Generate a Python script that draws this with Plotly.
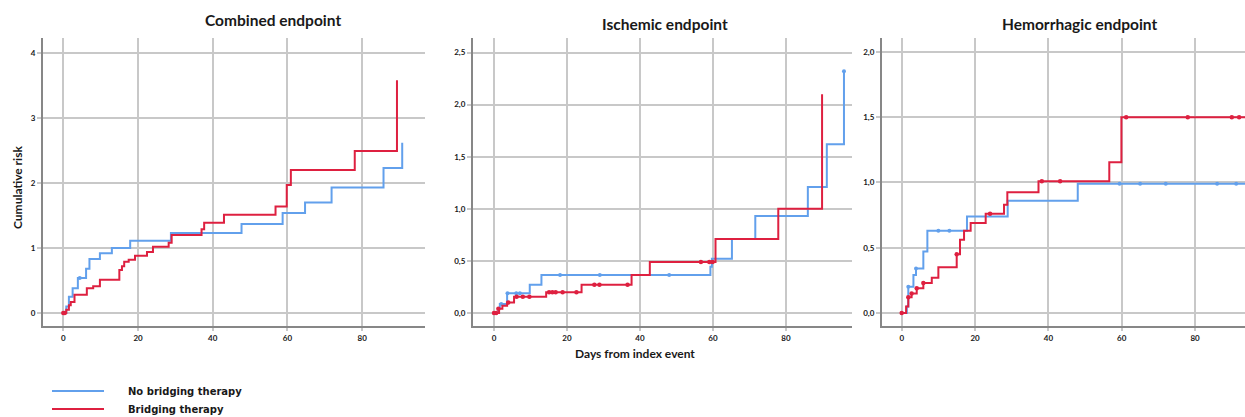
import plotly.graph_objects as go

W, H = 1245, 417

# ---------------- data ----------------
panel_titles = ["Combined endpoint", "Ischemic endpoint", "Hemorrhagic endpoint"]
series_names = ["No bridging therapy", "Bridging therapy"]
x_ticks = [0, 20, 40, 60, 80]
x_tick_labels = ["0", "20", "40", "60", "80"]

y1_ticks = [0, 1, 2, 3, 4]
y1_tick_labels = ["0", "1", "2", "3", "4"]
y2_ticks = [0, 0.5, 1.0, 1.5, 2.0, 2.5]
y2_tick_labels = ["0,0", "0,5", "1,0", "1,5", "2,0", "2,5"]
y3_ticks = [0, 0.5, 1.0, 1.5, 2.0]
y3_tick_labels = ["0,0", "0,5", "1,0", "1,5", "2,0"]

# Combined endpoint
comb_no_t = [0, 0.8, 1.5, 2.5, 3.9, 6.1, 7.0, 9.8, 13.0, 17.9, 28.8, 47.7, 58.7, 64.7, 71.8, 85.7, 90.7]
comb_no_y = [0, 0.10, 0.25, 0.38, 0.54, 0.68, 0.83, 0.92, 1.00, 1.11, 1.23, 1.37, 1.54, 1.70, 1.93, 2.23, 2.62]
comb_br_t = [0, 0.8, 1.5, 2.0, 3.0, 6.3, 8.0, 9.8, 15.0, 15.7, 16.3, 17.5, 19.2, 22.4, 24.0, 28.2, 29.0,
             37.0, 37.7, 43.0, 56.8, 59.8, 60.9, 78.0, 89.3]
comb_br_y = [0, 0.05, 0.12, 0.17, 0.28, 0.38, 0.41, 0.51, 0.66, 0.72, 0.79, 0.82, 0.88, 0.94, 1.02, 1.08, 1.20,
             1.29, 1.39, 1.51, 1.64, 1.97, 2.20, 2.49, 3.58]
comb_no_cens_t = [4.4]
comb_no_cens_y = [0.54]
comb_br_cens_t = [0, 0.4]
comb_br_cens_y = [0, 0]

# Ischemic endpoint
isch_no_t = [0, 1.2, 1.6, 3.6, 9.8, 13.0, 59.3, 59.7, 65.2, 71.6, 86.0, 91.2, 95.9]
isch_no_y = [0, 0.045, 0.087, 0.19, 0.27, 0.365, 0.445, 0.52, 0.71, 0.93, 1.21, 1.62, 2.32]
isch_br_t = [0, 1.4, 2.3, 3.6, 5.5, 14.3, 24.0, 37.7, 42.7, 60.7, 77.9, 89.9]
isch_br_y = [0, 0.04, 0.07, 0.10, 0.157, 0.20, 0.27, 0.365, 0.49, 0.71, 1.00, 2.10]
isch_no_cens_t = [2.0, 3.7, 6.1, 7.1, 18.1, 29.0, 48.0, 95.9]
isch_no_cens_y = [0.087, 0.19, 0.19, 0.19, 0.365, 0.365, 0.365, 2.32]
isch_br_cens_t = [0, 0.6, 1.2, 3.9, 6.2, 7.9, 9.7, 15.1, 16.0, 16.9, 18.8, 22.6, 27.5, 28.9, 36.6, 56.7, 59.0, 59.9]
isch_br_cens_y = [0, 0, 0.04, 0.10, 0.157, 0.157, 0.157, 0.20, 0.20, 0.20, 0.20, 0.20, 0.27, 0.27, 0.27, 0.49, 0.49, 0.49]

# Hemorrhagic endpoint
hem_no_t = [0, 1.4, 1.8, 3.2, 3.9, 5.9, 7.0, 17.8, 28.9, 48.0, 93.6]
hem_no_y = [0, 0.05, 0.20, 0.29, 0.34, 0.47, 0.63, 0.74, 0.86, 0.99, 0.99]
hem_br_t = [0, 1.2, 1.8, 2.7, 4.1, 5.9, 8.2, 10.0, 15.0, 15.9, 17.0, 18.8, 22.9, 27.9, 28.8, 37.3, 56.6, 59.9, 93.6]
hem_br_y = [0, 0.05, 0.12, 0.15, 0.19, 0.23, 0.27, 0.35, 0.45, 0.56, 0.63, 0.69, 0.76, 0.83, 0.925, 1.01, 1.155, 1.50, 1.50]
hem_no_cens_t = [1.8, 3.9, 10.0, 13.0, 59.4, 65.0, 72.0, 86.0, 91.2]
hem_no_cens_y = [0.20, 0.34, 0.63, 0.63, 0.99, 0.99, 0.99, 0.99, 0.99]
hem_br_cens_t = [0, 1.8, 2.7, 4.1, 5.9, 15.0, 24.1, 38.2, 43.2, 61.2, 78.0, 90.0, 92.0]
hem_br_cens_y = [0, 0.12, 0.15, 0.19, 0.23, 0.45, 0.76, 1.01, 1.01, 1.50, 1.50, 1.50, 1.50]

# ---------------- style ----------------
BLUE = "rgb(98,160,236)"
RED = "rgb(222,32,64)"
GRID = "rgb(200,200,200)"
AXIS = "rgb(135,135,135)"
TXT = "rgb(25,25,25)"
FONT = "Lato"

fig = go.Figure()

panels = [
    (comb_no_t, comb_no_y, comb_br_t, comb_br_y, comb_no_cens_t, comb_no_cens_y, comb_br_cens_t, comb_br_cens_y),
    (isch_no_t, isch_no_y, isch_br_t, isch_br_y, isch_no_cens_t, isch_no_cens_y, isch_br_cens_t, isch_br_cens_y),
    (hem_no_t, hem_no_y, hem_br_t, hem_br_y, hem_no_cens_t, hem_no_cens_y, hem_br_cens_t, hem_br_cens_y),
]

for i, (nt, ny, bt, by, nct, ncy, bct, bcy) in enumerate(panels):
    xa = "x" if i == 0 else f"x{i+1}"
    ya = "y" if i == 0 else f"y{i+1}"
    fig.add_trace(go.Scatter(x=nt, y=ny, mode="lines", line=dict(color=BLUE, width=2, shape="hv"),
                             name=series_names[0], showlegend=False, xaxis=xa, yaxis=ya))
    fig.add_trace(go.Scatter(x=nct, y=ncy, mode="markers", marker=dict(color=BLUE, size=4),
                             name=series_names[0], showlegend=False, xaxis=xa, yaxis=ya, hoverinfo="skip"))
    fig.add_trace(go.Scatter(x=bt, y=by, mode="lines", line=dict(color=RED, width=2, shape="hv"),
                             name=series_names[1], showlegend=False, xaxis=xa, yaxis=ya))
    fig.add_trace(go.Scatter(x=bct, y=bcy, mode="markers", marker=dict(color=RED, size=4.5),
                             name=series_names[1], showlegend=False, xaxis=xa, yaxis=ya, hoverinfo="skip"))

def px_x(p):
    return p / W

def px_y(p):
    return 1 - p / H

ydom = [px_y(326), px_y(38)]
xdoms = [[px_x(43), px_x(425)], [px_x(473), px_x(852)], [px_x(882), px_x(1245)]]
xranges = [[-5.43, 96.8], [-5.75, 98.1], [-5.37, 93.6]]
yranges = [[-0.2, 4.23], [-0.125, 2.64], [-0.1, 2.107]]
yticks = [(y1_ticks, y1_tick_labels), (y2_ticks, y2_tick_labels), (y3_ticks, y3_tick_labels)]

tickfont = dict(family=FONT, size=8, color=TXT, weight="bold")
for i in range(3):
    xk = "xaxis" if i == 0 else f"xaxis{i+1}"
    yk = "yaxis" if i == 0 else f"yaxis{i+1}"
    fig.layout[xk] = dict(
        domain=xdoms[i], range=xranges[i], anchor="y" if i == 0 else f"y{i+1}",
        tickvals=x_ticks, ticktext=x_tick_labels, tickfont=tickfont,
        showgrid=True, gridcolor=GRID, gridwidth=1.5, zeroline=False,
        showline=True, linecolor=AXIS, linewidth=2,
        ticks="outside", ticklen=3, tickcolor=GRID, tickwidth=1.5,
        fixedrange=True,
    )
    fig.layout[yk] = dict(
        domain=ydom, range=yranges[i], anchor="x" if i == 0 else f"x{i+1}",
        tickvals=yticks[i][0], ticktext=yticks[i][1], tickfont=tickfont,
        showgrid=True, gridcolor=GRID, gridwidth=1.5, zeroline=False,
        showline=True, linecolor=AXIS, linewidth=2,
        ticks="outside", ticklen=4, tickcolor=GRID, tickwidth=1.5,
        fixedrange=True,
    )

annotations = []
title_pos = [(273, 20), (665, 24), (1079, 24)]
for t, (x, y) in zip(panel_titles, title_pos):
    annotations.append(dict(text=t, x=px_x(x), y=px_y(y), xref="paper", yref="paper",
                            xanchor="center", yanchor="middle", showarrow=False,
                            font=dict(family=FONT, size=15.5, color=TXT, weight="bold")))
annotations.append(dict(text="Days from index event", x=px_x(635), y=px_y(353), xref="paper", yref="paper",
                        xanchor="center", yanchor="middle", showarrow=False,
                        font=dict(family=FONT, size=12, color=TXT, weight="bold")))
annotations.append(dict(text="Cumulative risk", x=px_x(17), y=px_y(188), xref="paper", yref="paper",
                        xanchor="center", yanchor="middle", showarrow=False, textangle=-90,
                        font=dict(family=FONT, size=12, color=TXT, weight="bold")))

# Legend key (drawn as line samples + labels, positioned like the original)
shapes = []
legend_font = dict(family="DejaVu Sans", size=10, color=TXT, weight="bold")
for name, color, ypix in zip(series_names, [BLUE, RED], [391, 409]):
    shapes.append(dict(type="line", xref="paper", yref="paper",
                       x0=px_x(52), x1=px_x(104), y0=px_y(ypix), y1=px_y(ypix),
                       line=dict(color=color, width=2)))
    annotations.append(dict(text=name, x=px_x(126), y=px_y(ypix), xref="paper", yref="paper",
                            xanchor="left", yanchor="middle", showarrow=False, font=legend_font))

fig.update_layout(
    width=W, height=H, margin=dict(l=0, r=0, t=0, b=0),
    paper_bgcolor="white", plot_bgcolor="white",
    annotations=annotations, shapes=shapes,
    showlegend=False,
)

fig.write_html("out.html", config={"displayModeBar": False},
               post_script="document.body.style.margin='0';document.body.style.overflow='hidden';")
